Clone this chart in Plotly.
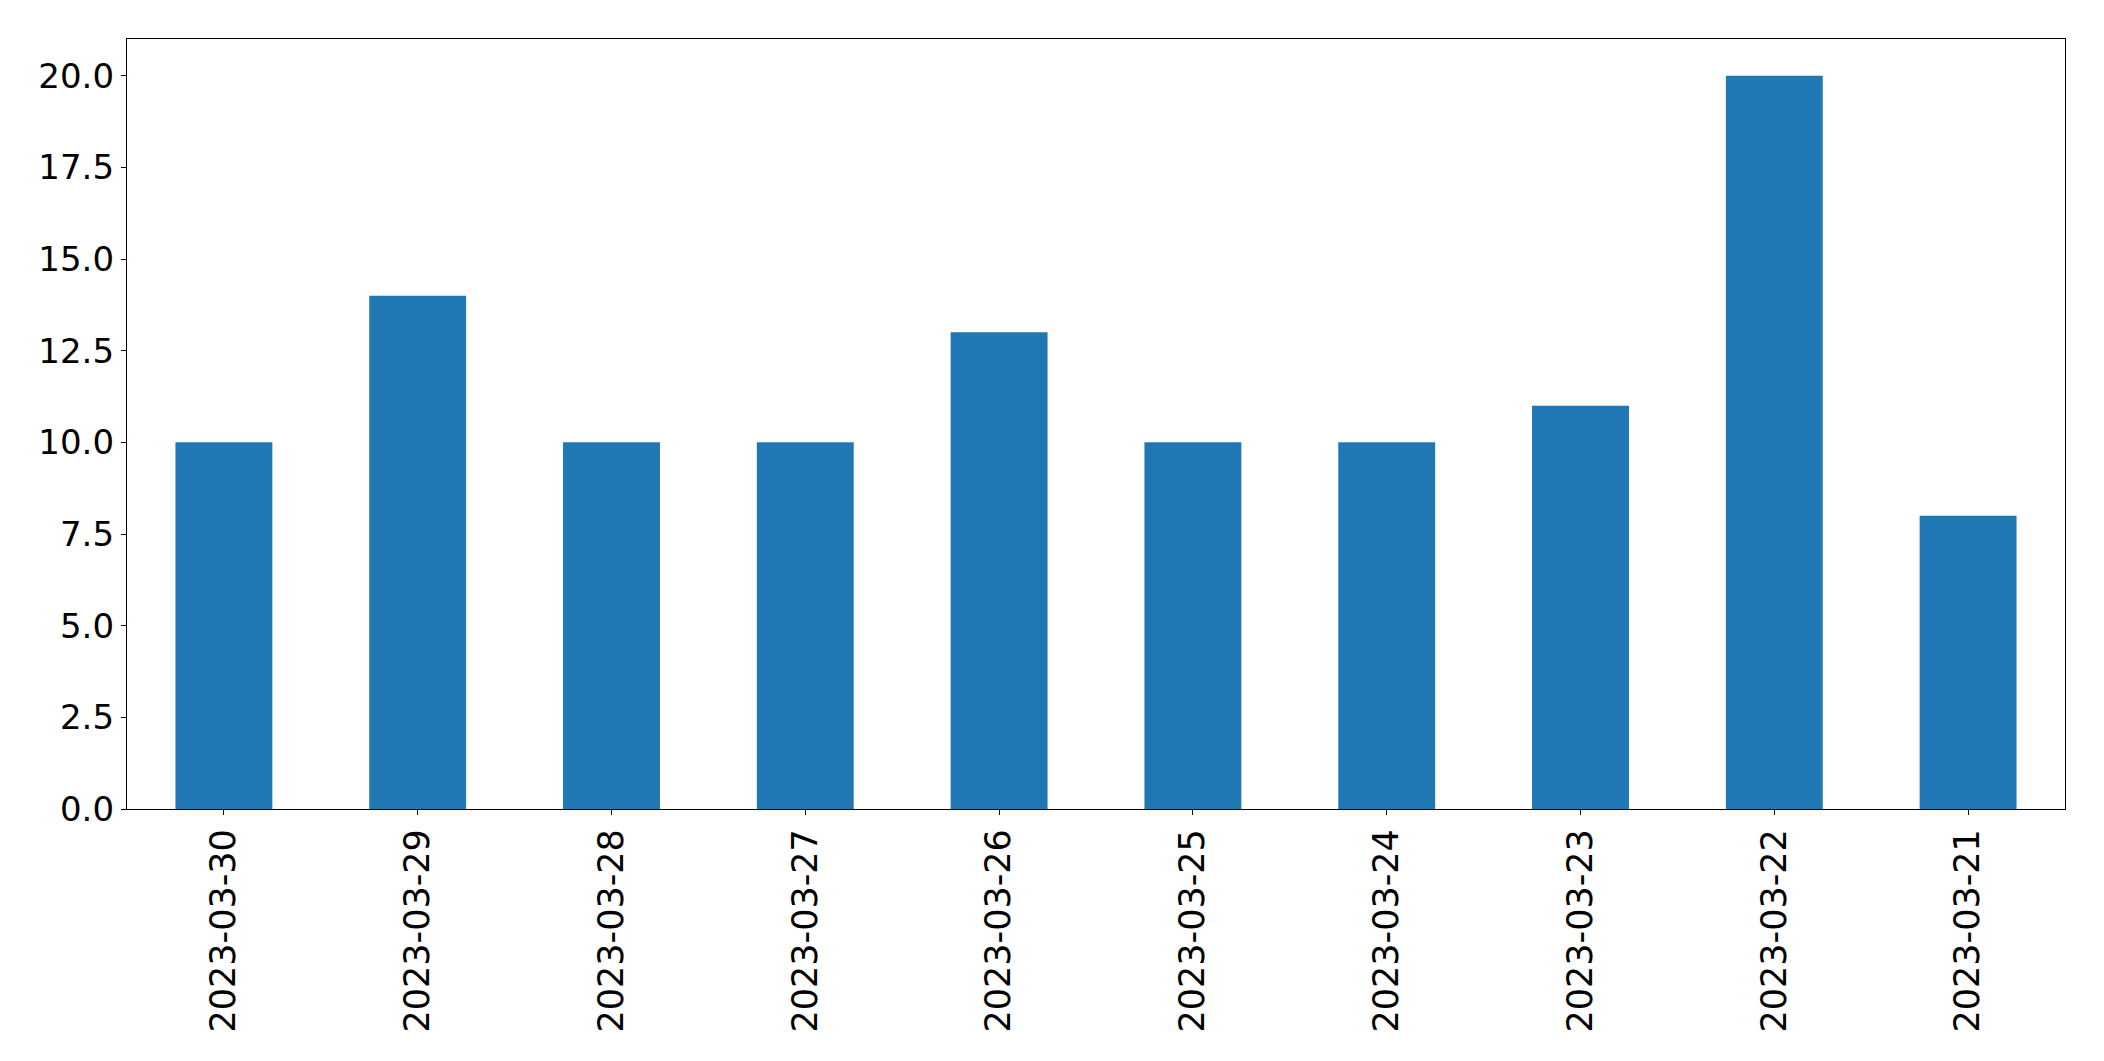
import plotly.graph_objects as go

dates = ["2023-03-30", "2023-03-29", "2023-03-28", "2023-03-27", "2023-03-26",
         "2023-03-25", "2023-03-24", "2023-03-23", "2023-03-22", "2023-03-21"]
counts = [10, 14, 10, 10, 13, 10, 10, 11, 20, 8]
y_ticks = [0, 2.5, 5, 7.5, 10, 12.5, 15, 17.5, 20]
y_tick_labels = ["0.0", "2.5", "5.0", "7.5", "10.0", "12.5", "15.0", "17.5", "20.0"]

fig = go.Figure(go.Bar(x=dates, y=counts, marker_color="#1f77b4", marker_line_width=0, width=0.5))

fig.update_layout(
    width=2104, height=1061,
    margin=dict(l=127, r=39, t=39, b=252),
    paper_bgcolor="white", plot_bgcolor="white",
    font=dict(family="DejaVu Sans", size=35, color="black"),
    showlegend=False,
    bargap=0.5,
)
fig.update_xaxes(
    type="category", range=[-0.5, 9.5], tickangle=-90,
    showline=True, linecolor="black", linewidth=1.3, mirror=True,
    ticks="outside", ticklen=5, tickcolor="black", tickwidth=1.3,
    showgrid=False, ticklabelstandoff=0,
)
fig.update_yaxes(
    range=[0, 21], tickvals=y_ticks, ticktext=y_tick_labels,
    showline=True, linecolor="black", linewidth=1.3, mirror=True,
    ticks="outside", ticklen=5, tickcolor="black", tickwidth=1.3,
    showgrid=False, zeroline=False, tickfont=dict(size=34),
)
fig.write_html("out.html")
